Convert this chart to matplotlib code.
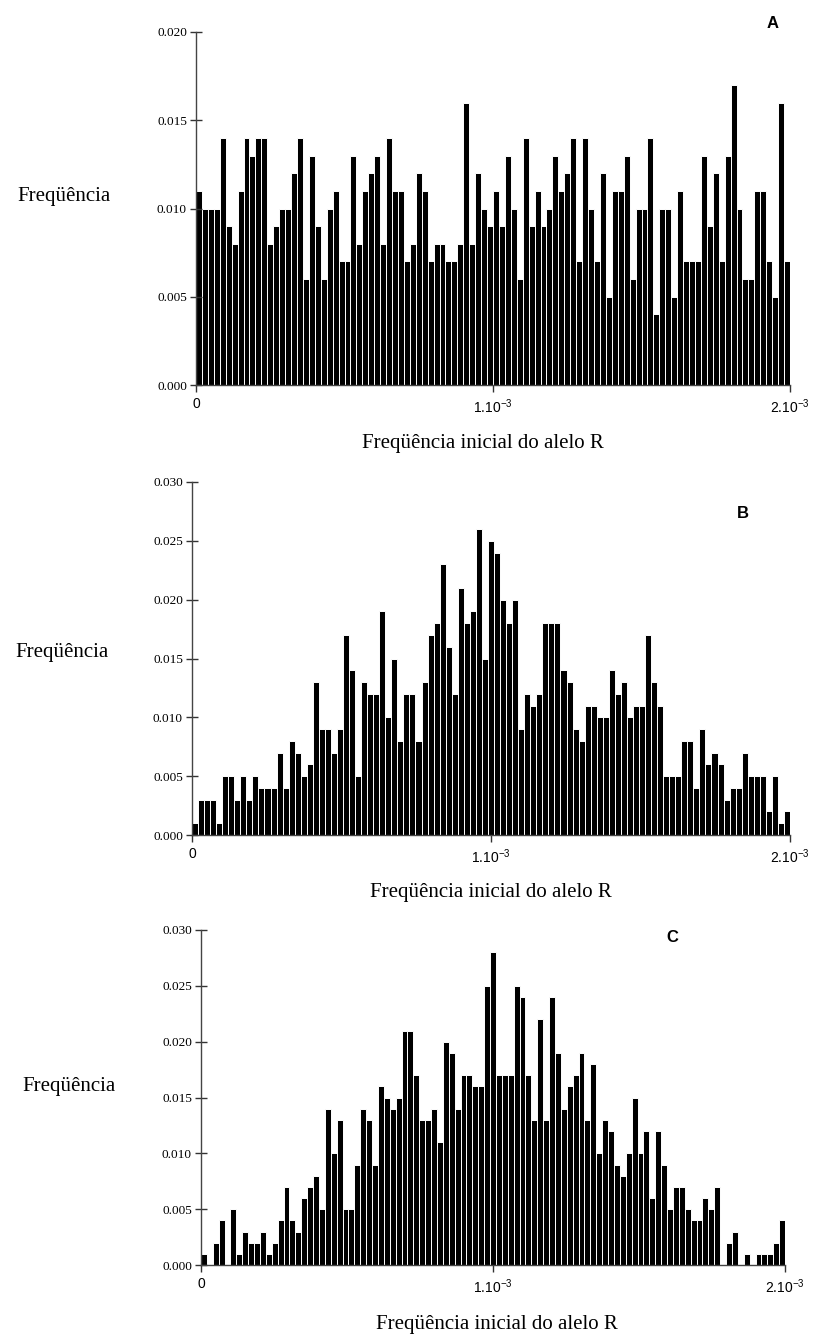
import matplotlib
matplotlib.use('Agg')
import matplotlib.pyplot as plt
import numpy as np

plt.rcParams['font.family'] = ['Liberation Serif', 'DejaVu Serif']
plt.rcParams['mathtext.fontset'] = 'custom'
plt.rcParams['mathtext.rm'] = 'Liberation Sans'
plt.rcParams['mathtext.it'] = 'Liberation Sans'
plt.rcParams['mathtext.bf'] = 'Liberation Sans:bold'

# ---------------- data ----------------
freq_A = [0.011, 0.010, 0.010, 0.010, 0.014, 0.009, 0.008, 0.011, 0.014, 0.013,
          0.014, 0.014, 0.008, 0.009, 0.010, 0.010, 0.012, 0.014, 0.006, 0.013,
          0.009, 0.006, 0.010, 0.011, 0.007, 0.007, 0.013, 0.008, 0.011, 0.012,
          0.013, 0.008, 0.014,
          0.011, 0.011, 0.007, 0.008, 0.012, 0.011, 0.007, 0.008, 0.008, 0.007,
          0.007, 0.008, 0.016, 0.008, 0.012, 0.010, 0.009, 0.011, 0.009, 0.013,
          0.010, 0.006, 0.014, 0.009, 0.011, 0.009, 0.010, 0.013, 0.011, 0.012,
          0.014, 0.007,
          0.014, 0.010, 0.007, 0.012, 0.005, 0.011, 0.011, 0.013, 0.006, 0.010,
          0.010, 0.014, 0.004, 0.010, 0.010, 0.005, 0.011, 0.007, 0.007, 0.007,
          0.013, 0.009, 0.012, 0.007, 0.013, 0.017, 0.010, 0.006, 0.006, 0.011,
          0.011, 0.007, 0.005, 0.016, 0.007]

freq_B = [0.001, 0.003, 0.003, 0.003, 0.001, 0.005, 0.005, 0.003, 0.005, 0.003,
          0.005, 0.004, 0.004, 0.004, 0.007, 0.004, 0.008, 0.007, 0.005, 0.006,
          0.013, 0.009, 0.009, 0.007, 0.009, 0.017, 0.014, 0.005, 0.013, 0.012,
          0.012,
          0.019, 0.010, 0.015, 0.008, 0.012, 0.012, 0.008, 0.013, 0.017, 0.018,
          0.023, 0.016, 0.012, 0.021, 0.018, 0.019, 0.026, 0.015, 0.025, 0.024,
          0.020, 0.018, 0.020, 0.009, 0.012, 0.011, 0.012, 0.018, 0.018, 0.018,
          0.014, 0.013, 0.009,
          0.008, 0.011, 0.011, 0.010, 0.010, 0.014, 0.012, 0.013, 0.010, 0.011,
          0.011, 0.017, 0.013, 0.011, 0.005, 0.005, 0.005, 0.008, 0.008, 0.004,
          0.009, 0.006, 0.007, 0.006, 0.003, 0.004, 0.004, 0.007, 0.005, 0.005,
          0.005, 0.002, 0.005, 0.001, 0.002]

freq_C = [0.001, 0.000, 0.002, 0.004, 0.000, 0.005, 0.001, 0.003, 0.002, 0.002,
          0.003, 0.001, 0.002, 0.004, 0.007, 0.004, 0.003, 0.006, 0.007, 0.008,
          0.005, 0.014, 0.010, 0.013, 0.005, 0.005, 0.009, 0.014, 0.013, 0.009,
          0.016, 0.015, 0.014,
          0.015, 0.021, 0.021, 0.017, 0.013, 0.013, 0.014, 0.011, 0.020, 0.019,
          0.014, 0.017, 0.017, 0.016, 0.016, 0.025, 0.028, 0.017, 0.017, 0.017,
          0.025, 0.024, 0.017, 0.013, 0.022, 0.013, 0.024, 0.019, 0.014, 0.016,
          0.017, 0.019, 0.013, 0.018,
          0.010, 0.013, 0.012, 0.009, 0.008, 0.010, 0.015, 0.010, 0.012, 0.006,
          0.012, 0.009, 0.005, 0.007, 0.007, 0.005, 0.004, 0.004, 0.006, 0.005,
          0.007, 0.000, 0.002, 0.003, 0.000, 0.001, 0.000, 0.001, 0.001, 0.001,
          0.002, 0.004]

x_max = 2e-3
x_ticks = [0, 1e-3, 2e-3]
x_ticklabels = ['0', '1.10$^{-3}$', '2.10$^{-3}$']
y_label = 'Freqüência'
x_label = 'Freqüência inicial do alelo R'
letters = ['A', 'B', 'C']
y_maxes = [0.020, 0.030, 0.030]

# ---------------- layout (pixels) ----------------
W, H = 831, 1340
fig = plt.figure(figsize=(W / 100, H / 100), dpi=100)

boxes = [(196, 790, 32, 385), (192, 790, 482, 835), (201, 785, 930, 1265)]
letter_xy = [(773, 24), (743, 513), (672, 937)]
ylab_xy = [(17, 197), (15, 652), (22, 1087)]
xlab_xy = [(483, 443), (491, 893), (497, 1325)]

for vals, ymax, box, let, lxy, yxy, xxy in zip(
        [freq_A, freq_B, freq_C], y_maxes, boxes, letters,
        letter_xy, ylab_xy, xlab_xy):
    l, r, t, b = box
    ax = fig.add_axes([l / W, 1 - b / H, (r - l) / W, (b - t) / H])
    n = len(vals)
    w = x_max / n
    x = np.arange(n) * w
    ax.bar(x, vals, width=w, align='edge', color='black',
           edgecolor='white', linewidth=0.7)
    ax.set_xlim(0, x_max)
    ax.set_ylim(0, ymax)
    for s in ['top', 'right']:
        ax.spines[s].set_visible(False)
    for s in ['left', 'bottom']:
        ax.spines[s].set_color('#444444')
        ax.spines[s].set_linewidth(1.0)
        ax.spines[s].set_zorder(3)
    yt = np.round(np.arange(0, ymax + 1e-9, 0.005), 3)
    ax.set_yticks(yt)
    ax.set_yticklabels(['%.3f' % v for v in yt], fontsize=9.5,
                       family=['Liberation Serif'])
    ax.tick_params(axis='y', direction='inout', length=9, width=1,
                   color='#333333', pad=2)
    ax.set_xticks(x_ticks)
    ax.set_xticklabels(x_ticklabels, fontsize=10, family=['Liberation Sans'])
    ax.tick_params(axis='x', direction='out', length=5, width=1,
                   color='#333333', pad=4)
    fig.text(lxy[0] / W, 1 - lxy[1] / H, let, ha='center', va='center',
             fontsize=12, fontweight='bold', family=['Liberation Sans'])
    fig.text(yxy[0] / W, 1 - yxy[1] / H, y_label, ha='left', va='center',
             fontsize=15)
    fig.text(xxy[0] / W, 1 - xxy[1] / H, x_label, ha='center', va='center',
             fontsize=15)

fig.savefig('out.png', dpi=100, facecolor='white')
